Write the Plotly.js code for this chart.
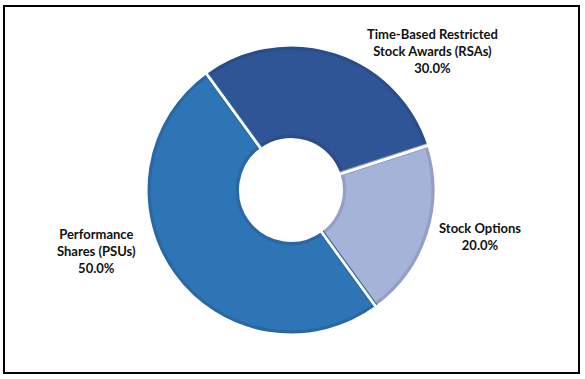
<!DOCTYPE html>
<html>
<head>
<meta charset="utf-8">
<script src="https://cdn.plot.ly/plotly-3.0.1.min.js"></script>
<style>html,body{margin:0;padding:0;background:#fff;}#chart{width:585px;height:379px;}</style>
</head>
<body>
<div id="chart"></div>
<script>
var categories = ['Time-Based Restricted<br>Stock Awards (RSAs)', 'Stock Options', 'Performance<br>Shares (PSUs)'];
var values = [30, 20, 50];
var fillColors = ['#2F5597', '#A6B3D9', '#2E75B6'];
var rimColors = ['#2A4C88', '#939FC6', '#2968A4'];

var W = 585, H = 379;
var cx = 291, cy = 190;
var R = 144.75;
function dom(r) {
  return {x: [(cx - r) / W, (cx + r) / W], y: [1 - (cy + r) / H, 1 - (cy - r) / H]};
}

var total = values.reduce(function(a, b) { return a + b; }, 0);
var pctText = values.map(function(v) { return (v / total * 100).toFixed(1) + '%'; });

var base = {
  type: 'pie', labels: categories, values: values, sort: false,
  direction: 'clockwise', rotation: -36, textinfo: 'none', hoverinfo: 'none',
  showlegend: false
};
var traceFill = Object.assign({}, base, {
  domain: dom(R - 2), hole: 52.75 / (R - 2),
  marker: {colors: fillColors, line: {color: rimColors, width: 5}}
});
var traceGap = Object.assign({}, base, {
  domain: dom(R), hole: 50.75 / R,
  marker: {colors: ['rgba(0,0,0,0)', 'rgba(0,0,0,0)', 'rgba(0,0,0,0)'], line: {color: '#ffffff', width: 2.5}}
});

var labelPos = [[432, 51], [480, 236], [96, 251]];
var annotations = categories.map(function(c, i) {
  return {
    xref: 'paper', yref: 'paper', x: labelPos[i][0] / W, y: 1 - labelPos[i][1] / H,
    xanchor: 'center', yanchor: 'middle', showarrow: false, align: 'center',
    text: '<b>' + c + '<br>' + pctText[i] + '</b>',
    font: {family: 'Lato, sans-serif', size: 13, color: '#111111'}
  };
});

var layout = {
  width: W, height: H, margin: {l: 0, r: 0, t: 0, b: 0},
  paper_bgcolor: '#ffffff', plot_bgcolor: '#ffffff',
  annotations: annotations,
  shapes: [{type: 'rect', xref: 'paper', yref: 'paper',
    x0: 4 / W, x1: 579 / W, y0: 1 - 373 / H, y1: 1 - 6 / H,
    line: {color: '#000000', width: 2}, fillcolor: 'rgba(0,0,0,0)'}]
};
Plotly.newPlot('chart', [traceFill, traceGap], layout, {displayModeBar: false, staticPlot: true});
</script>
</body>
</html>
